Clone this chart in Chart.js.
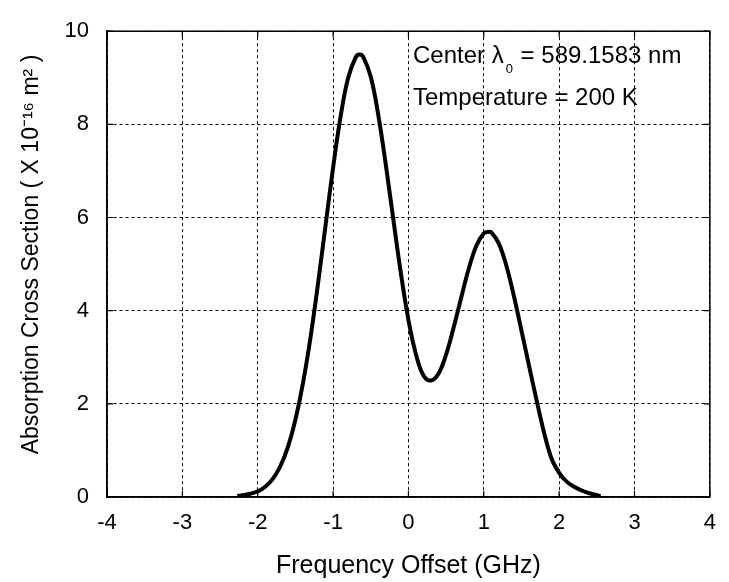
<!DOCTYPE html>
<html>
<head>
<meta charset="utf-8">
<script src="https://cdn.jsdelivr.net/npm/chart.js@4.4.1/dist/chart.umd.min.js"></script>
<style>
  html, body { margin: 0; padding: 0; background: #fff; }
  #wrap { width: 729px; height: 582px; position: relative; }
</style>
</head>
<body>
<div id="wrap"><canvas id="c" width="729" height="582"></canvas></div>
<script>
// Frequency offset (GHz) sampled along the curve
const freqOffset = [-2.27,-2.2,-2.1,-2.0,-1.9,-1.8,-1.7,-1.6,-1.5,-1.4,-1.3,-1.2,-1.1,-1.0,-0.9,-0.8,-0.7,-0.65,-0.6,-0.5,-0.4,-0.3,-0.2,-0.1,0.0,0.1,0.2,0.3,0.4,0.5,0.6,0.7,0.8,0.9,1.0,1.06,1.1,1.2,1.3,1.4,1.5,1.6,1.7,1.8,1.9,2.0,2.1,2.2,2.3,2.4,2.5,2.55];
// Absorption cross section (x 10^-16 m^2)
const crossSection = [0.02,0.04,0.07,0.12,0.22,0.39,0.66,1.07,1.66,2.44,3.42,4.58,5.83,7.07,8.17,9.00,9.44,9.50,9.45,9.02,8.20,7.13,5.95,4.80,3.80,3.06,2.61,2.50,2.65,3.06,3.64,4.28,4.90,5.39,5.66,5.69,5.68,5.44,4.96,4.31,3.57,2.82,2.08,1.38,0.82,0.52,0.33,0.22,0.14,0.08,0.04,0.02];
const xTicks = [-4,-3,-2,-1,0,1,2,3,4];
const yTicks = [0,2,4,6,8,10];
const annotLine1 = ["Center λ", "0", " = 589.1583 nm"];
const annotLine2 = "Temperature = 200 K";
const xTitle = "Frequency Offset (GHz)";
const yTitle = "   Absorption Cross Section ( X 10⁻¹⁶ m² )";

const FONT = "'Liberation Sans', Arial, sans-serif";
const points = freqOffset.map((x, i) => ({ x: x, y: crossSection[i] }));

const framePlugin = {
  id: 'frame',
  afterDraw(chart) {
    const { ctx, chartArea: a, scales } = chart;
    ctx.save();
    ctx.strokeStyle = '#000';
    ctx.lineWidth = 1.5;
    ctx.strokeRect(a.left, a.top, a.right - a.left, a.bottom - a.top);
    ctx.lineWidth = 1.2;
    const L = 6;
    xTicks.forEach(v => {
      const px = scales.x.getPixelForValue(v);
      ctx.beginPath();
      ctx.moveTo(px, a.top); ctx.lineTo(px, a.top + L);
      ctx.moveTo(px, a.bottom); ctx.lineTo(px, a.bottom - L);
      ctx.stroke();
    });
    yTicks.forEach(v => {
      const py = scales.y.getPixelForValue(v);
      ctx.beginPath();
      ctx.moveTo(a.left, py); ctx.lineTo(a.left + L, py);
      ctx.moveTo(a.right, py); ctx.lineTo(a.right - L, py);
      ctx.stroke();
    });
    // annotations
    ctx.fillStyle = '#000';
    ctx.textBaseline = 'alphabetic';
    ctx.textAlign = 'left';
    const x0 = 413, y0 = 63;
    ctx.font = "24px " + FONT;
    ctx.fillText(annotLine1[0], x0, y0);
    const w = ctx.measureText(annotLine1[0]).width;
    ctx.font = "13px " + FONT;
    ctx.fillText(annotLine1[1], x0 + w + 2, y0 + 10);
    const w2 = ctx.measureText(annotLine1[1]).width;
    ctx.font = "24px " + FONT;
    ctx.fillText(annotLine1[2], x0 + w + w2 + 3, y0);
    ctx.fillText(annotLine2, 413, 105);
    ctx.restore();
  }
};

new Chart(document.getElementById('c'), {
  type: 'scatter',
  data: {
    datasets: [{
      data: points,
      showLine: true,
      borderColor: '#000',
      borderWidth: 4,
      pointRadius: 0,
      tension: 0.4,
      fill: false
    }]
  },
  options: {
    responsive: false,
    animation: false,
    layout: { padding: { top: 26, right: 9, left: 0, bottom: 0 } },
    plugins: { legend: { display: false }, tooltip: { enabled: false } },
    scales: {
      x: {
        type: 'linear', min: -4, max: 4,
        afterBuildTicks: s => { s.ticks = xTicks.map(v => ({ value: v })); },
        afterFit: s => { s.height = 85; },
        grid: { color: '#000', lineWidth: 1, drawTicks: false },
        border: { display: true, color: '#000', width: 1.5, dash: [3, 3] },
        ticks: { color: '#000', font: { family: FONT, size: 22 }, padding: 13, maxRotation: 0 },
        title: { display: true, text: xTitle, color: '#000', font: { family: FONT, size: 25 }, padding: { top: 2, bottom: 1 } }
      },
      y: {
        type: 'linear', min: 0, max: 10,
        afterBuildTicks: s => { s.ticks = yTicks.map(v => ({ value: v })); },
        afterFit: s => { s.width = 107; },
        grid: { color: '#000', lineWidth: 1, drawTicks: false },
        border: { display: true, color: '#000', width: 1.5, dash: [3, 3] },
        ticks: { color: '#000', font: { family: FONT, size: 22 }, padding: 18 },
        title: { display: true, text: yTitle, color: '#000', font: { family: FONT, size: 23 }, padding: { top: 18, bottom: 2 } }
      }
    }
  },
  plugins: [framePlugin]
});
</script>
</body>
</html>
